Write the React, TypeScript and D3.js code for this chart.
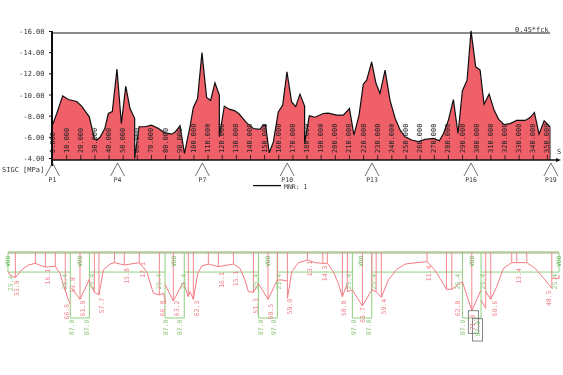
import React from "react";
import * as d3 from "d3";

const W = 563, H = 375;

// Upper chart: [station S, stress magnitude in MPa]
const stress: [number, number][] = [
  [0,7.15],[3,8.25],[7.2,9.92],[11.2,9.57],[17.1,9.39],[20.6,8.95],[26,7.94],[29.6,5.9],[31.2,5.73],[33.6,6],[37,6.83],[39.5,8.25],[42.3,8.44],[45.6,12.44],[48.7,7.3],[51.8,10.83],[54.8,8.72],[58.1,7.8],[58.1,4],[61.2,7],[65.4,7],[70,7.15],[75,6.83],[78.9,6.45],[84.3,6.3],[86.7,6.5],[90.2,7.1],[93.3,4.47],[97.2,7],
  [99.6,8.82],[102.6,9.67],[105.7,14],[109,9.76],[111.8,9.48],[114.9,11.15],[118,10],[118,6.05],[121.5,8.95],[125,8.66],[129,8.5],[132,8.2],[137.3,7.37],[142,6.83],[146.7,6.75],[149,7.15],[150.7,7.15],[153.3,4.53],[156.2,5.57],[159.7,8.4],[162.8,9.04],[165.8,12.2],[169.1,9.35],[172,8.9],[175,10.08],[178.3,8.95],[178.3,5.4],[181.6,8.03],[185.6,7.9],[191.5,8.25],[195,8.28],[201,8.1],[205.7,8.1],[210,8.72],[213.2,6.2],[216.8,8.1],[219.8,11.02],[222.2,11.4],[225.7,13.13],[228.8,11.08],
  [231.6,10.14],[235.2,12.35],[238.7,9.5],[242.3,7.8],[245.8,6.7],[249.3,6.05],[254,5.75],[258.8,5.6],[263.5,5.8],[269.4,5.9],[273.6,5.67],[276.5,6.36],[280,7.62],[283.5,9.57],[286.8,6.36],[289.9,10.4],[293.2,11.4],[296,16.06],[299.3,12.66],[302.4,12.35],[305.2,9.13],[308.8,10.08],[312.3,8.57],[315.4,7.72],[319.4,7.2],[323.6,7.3],[328.3,7.6],[334.2,7.6],[337.8,7.87],[340.8,8.35],[344.1,6.3],[347.7,7.57],[351.9,7],
];
const yTicks = [16, 14, 12, 10, 8, 6, 4];
const xTicks = d3.range(0, 351, 10);
const supports: [string, number][] = [["P1",0],["P4",46],["P7",106],["P10",166],["P13",226],["P16",296],["P19",352.5]];

// Lower chart: required steel envelope, [station, area]
const envelopeSegments: [number, number][][] = [
  [[0,25.5],[1.3,29.9],[4.7,33.4],[8.7,23.2],[13,16.6],[17.5,14.4],[21.5,17.9],[23.9,19.3],[30.2,18.4],[33.2,27.7],[35.4,43.2],[38.6,63.1],[39.8,68.4]],
  [[40.7,47.6],[46,62.2],[52,35.6],[52.4,41],[55.2,52.9],[58.1,56.4],[60.9,23.2],[65.2,15.3],[68,13.5],[74.3,16.6],[83.9,13.5],[88.6,25.5],[92.9,54.2],[96.7,56.4],[99.3,54.2],[100.8,67.5]],
  [[100.3,42.3],[105.6,64.4],[111.6,41],[112.3,41],[115.2,58.7],[116.3,52],[118.4,62.2],[121.2,27.7],[123.8,17.9],[128,15.3],[134.4,18.8],[144,15.3],[148.2,21],[151.4,36.5],[153.6,52],[156.8,52.9],[160,41],[166.1,62.2],[172.1,36.5],[174.9,36.5],[178.5,37.9]],
  [[178.5,60.9],[181.3,25.5],[185.5,13.5],[191.3,10],[196.2,13.5],[201.1,14.4],[204,14.4],[207.9,25.5],[211,41],[213.6,58.7],[216.4,43.2]],
  [[216.8,52],[220,49.8],[226.4,71],[232.4,49.8],[235.2,52],[238.5,59.5],[243,36.5],[248.3,22.4],[253.7,15.3],[261.1,13.5],[267.7,12.2],[271.8,21],[276,34.3],[280.1,48.9],[283.5,48.9],[290.3,38.7],[296.3,77.3],[302.2,49.8]],
  [[302.2,63.1],[305.2,74.2]],
  [[305.2,52],[308.4,62.2],[312.2,45.4],[316.5,21],[321.8,13.5],[331.4,13.5],[336.7,21],[343.1,36.5],[347.4,47.6]],
  [[347.4,34.3],[352,34.3],[352,29.9]],
];
const rebarDrops: [number, number][] = [
  [4.7,33.4],[17.5,14.4],[23.9,19.3],[30.2,18.4],[36.6,50],[46,62.2],[55.2,52.9],[58.1,56.4],[68,13.5],[74.3,16.6],[83.9,13.5],[96.7,56.4],[105.6,64.4],[115.2,58.7],[118.4,62.2],[128,15.3],[134.4,18.8],[144,15.3],[156.8,52.9],[166.1,62.2],[172.1,36.5],[178.5,60.9],[191.3,10],[201.1,14.4],[204,14.4],[213.6,58.7],[216.8,52],[226.4,71],[232.4,49.8],[235.2,52],[238.5,59.5],[267.7,12.2],[280.1,48.9],[283.5,48.9],[296.3,77.3],[305.2,74.2],[308.4,62.2],[321.8,13.5],[325,13.5],[331.4,13.5],[347.4,47.6],
];
const providedSteel: [number, number][] = [
  [0,0],[0,26],[39.8,26],[39.8,87],[52,87],[52,26],[100.3,26],[100.3,87],[112.6,87],[112.6,26],[160,26],[160,87],[172.1,87],[172.1,26],[220,26],[220,87],[232.4,87],[232.4,26],[290.3,26],[290.3,87],[302.2,87],[302.2,26],[352,26],[352,0],
];
const boxStations = [39.8, 52, 100.3, 112.6, 160, 172.1, 220, 232.4, 290.3, 302.2];
const greenLabels: [string, number, number][] = [
  ["25.4",1.9,41],["25.4",36.4,38.7],["87.0",41.1,99.4],["87.0",50.3,99.4],["25.4",53.5,38.7],["25.4",96.7,38.7],["87.0",101.2,99.4],["87.0",110.1,99.4],["25.4",112.5,38.7],
  ["25.4",158.3,38.7],["87.0",161.5,99.4],["87.0",170,99.4],["25.4",173.4,38.7],["25.4",218.1,38.7],["87.0",221.1,99.4],["87.0",230.7,99.4],["25.4",233.9,38.7],
  ["25.4",287.7,38.7],["87.0",290.9,99.4],["25.4",303.7,38.7],["87.0",300.5,101],["25.4",349.5,38.7],
];
const redLabels: [string, number, number][] = [
  ["33.9",5.5,47.6],["16.1",25.8,32.1],["66.6",37.5,78.6],["53.8",41.8,43.2],["61.9",47.7,74.2],["57.7",59.9,70.6],["15.8",75.8,31.2],["17.1",86,23.2],["66.8",98.8,74.2],["63.2",107.8,74.2],
  ["62.3",120.6,74.2],["16.1",136.5,36.5],["15.1",145.5,34.3],["51.3",158.3,71],["60.5",167.8,78.6],["59.0",180.2,71.9],["13.1",193,21],["14.3",202.6,27.7],["50.8",214.9,74.2],["63.7",227,83],
  ["59.4",240.3,71.9],["11.4",269.2,27.7],["62.0",287.7,74.2],["71.0",297.3,93],["60.6",310.8,74.2],["13.4",326.5,31.2],["48.5",345.3,60.9],
];
const stirrupMarks = [0, 45.6, 105.7, 165.8, 225.7, 296, 352];
const labelBoxes: [number, number, number, number][] = [[294.1,300.5,77.3,107.3],[296.7,303.1,87.9,117.6]];

const x = d3.scaleLinear().domain([0, 350]).range([52.5, 547.4]);
const y = d3.scaleLinear().domain([16, 4]).range([31.5, 158.5]);
const bx = d3.scaleLinear().domain([0, 352]).range([8, 559]);
const by = d3.scaleLinear().domain([0, 87]).range([252.5, 318]);

const BASE = y(3.86);
const areaPath = d3.area<[number, number]>().x(d => x(d[0])).y0(BASE).y1(d => y(d[1]))(stress) ?? "";
const linePath = d3.line<[number, number]>().x(d => x(d[0])).y(d => y(d[1]))(stress) ?? "";
const bLine = d3.line<[number, number]>().x(d => bx(d[0])).y(d => by(d[1]));

const MONO = "'DejaVu Sans Mono', monospace";
const INK = "#333";
const GREEN = "#8fcf7f";
const PINK = "#f27a82";

export default function App() {
  return (
    <svg width={W} height={H} style={{ position: "absolute", left: 0, top: 0, display: "block", background: "#fff" }} fontFamily={MONO} fontSize={7}>
      <defs>
        <filter id="soft" x="-2%" y="-2%" width="104%" height="104%">
          <feGaussianBlur stdDeviation="0.35" />
        </filter>
      </defs>
      <g filter="url(#soft)">
        {/* Upper chart */}
        <path d={areaPath} fill="#ef6069" />
        <line x1={52} x2={550} y1={33} y2={33} stroke="#111" strokeWidth={1.2} />
        <path d={linePath} fill="none" stroke="#111" strokeWidth={1.2} />
        <line x1={x(351.9)} x2={x(351.9)} y1={y(7)} y2={BASE} stroke="#111" strokeWidth={0.8} />
        {xTicks.map(t => (
          <g key={t}>
            <line x1={x(t)} x2={x(t)} y1={BASE} y2={BASE - 5} stroke="#111" strokeWidth={0.8} />
            <text transform={`translate(${x(t) + 2},153) rotate(-90)`} fill="#222">{t.toFixed(3)}</text>
          </g>
        ))}
        <line x1={52} x2={52} y1={31} y2={166} stroke="#111" strokeWidth={2} />
        <line x1={52} x2={556} y1={BASE} y2={BASE} stroke="#111" strokeWidth={1.4} />
        <path d={`M556,${BASE - 2}L561,${BASE}L556,${BASE + 2}Z`} fill="#111" />
        {yTicks.map(t => (
          <g key={t}>
            <line x1={49} x2={52} y1={y(t)} y2={y(t)} stroke="#111" strokeWidth={1} />
            <text x={44.5} y={y(t) + 2.5} textAnchor="end" fill={INK}>{`-${t.toFixed(2)}`}</text>
          </g>
        ))}
        <text x={515} y={32} fill={INK}>0.45*fck</text>
        <text x={557} y={154} fill={INK}>S</text>
        <text x={2} y={171.5} fill={INK}>SIGC [MPa]</text>
        {supports.map(([name, s]) => (
          <g key={name}>
            <path d={`M${x(s) - 7},176L${x(s)},163L${x(s) + 7},176`} fill="none" stroke="#333" strokeWidth={0.7} />
            <text x={x(s)} y={181.5} textAnchor="middle" fill={INK} fontSize={6.5}>{name}</text>
          </g>
        ))}
        <line x1={253} x2={281} y1={185.6} y2={185.6} stroke="#111" strokeWidth={1.3} />
        <text x={284} y={189} fill={INK} fontSize={6.5}>MNR: 1</text>

        {/* Lower chart */}
        <line x1={bx(0)} x2={bx(352)} y1={by(0)} y2={by(0)} stroke="#b9c8a0" strokeWidth={2.6} />
        <path d={bLine(providedSteel) ?? ""} fill="none" stroke={GREEN} strokeWidth={1} />
        {boxStations.map(s => (
          <line key={s} x1={bx(s)} x2={bx(s)} y1={by(0)} y2={by(26)} stroke={GREEN} strokeWidth={1} />
        ))}
        {rebarDrops.map(([s, v], i) => (
          <line key={i} x1={bx(s)} x2={bx(s)} y1={by(0)} y2={by(v)} stroke={PINK} strokeWidth={0.9} />
        ))}
        {envelopeSegments.map((seg, i) => (
          <path key={i} d={bLine(seg) ?? ""} fill="none" stroke={PINK} strokeWidth={1} />
        ))}
        {stirrupMarks.map(s => (
          <text key={s} transform={`translate(${bx(s) + 2.2},${by(19)}) rotate(-90)`} fill="#5fae4f" fontSize={6}>VOO</text>
        ))}
        {labelBoxes.map(([s0, s1, v0, v1], i) => (
          <rect key={i} x={bx(s0)} y={by(v0)} width={bx(s1) - bx(s0)} height={by(v1) - by(v0)} fill="none" stroke="#777" strokeWidth={0.9} />
        ))}
        {greenLabels.map(([t, s, v], i) => (
          <text key={i} transform={`translate(${bx(s) + 2},${by(v)}) rotate(-90)`} textAnchor="middle" fill="#8fc97f" fontSize={6.5}>{t}</text>
        ))}
        {redLabels.map(([t, s, v], i) => (
          <text key={i} transform={`translate(${bx(s) + 2},${by(v)}) rotate(-90)`} textAnchor="middle" fill="#f0808a" fontSize={6.5}>{t}</text>
        ))}
      </g>
    </svg>
  );
}
